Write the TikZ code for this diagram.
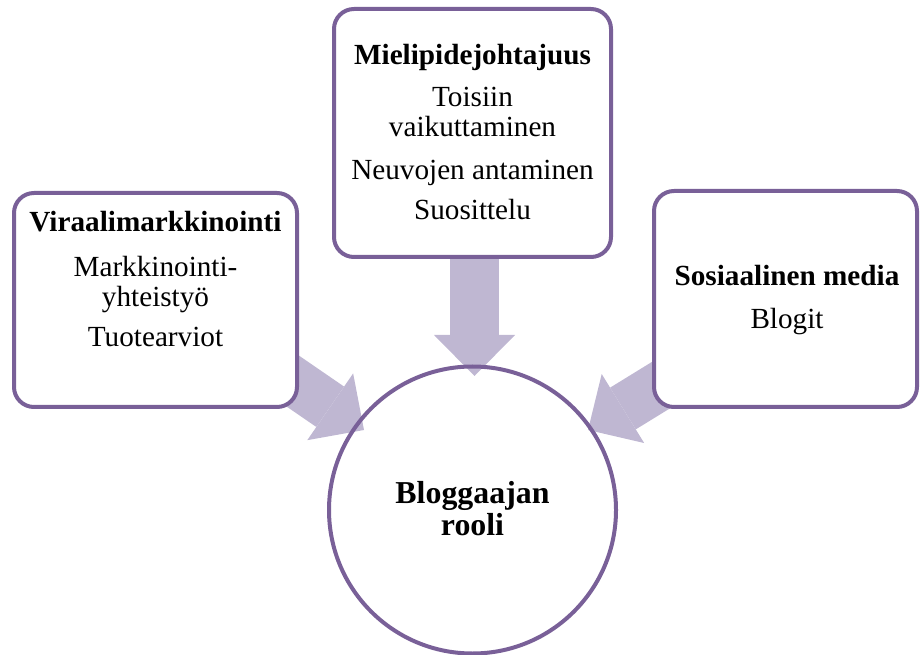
\documentclass[tikz,border=0pt]{standalone}
\usepackage{fontspec}
\setmainfont{Liberation Serif}
\usetikzlibrary{arrows.meta}
\definecolor{bord}{RGB}{121,96,152}
\definecolor{arrowfill}{RGB}{191,183,210}
\begin{document}
\begin{tikzpicture}[x=0.75pt,y=-0.75pt,
  box/.style={draw=bord,line width=3pt,fill=white,rounded corners=15pt,inner sep=0pt},
  hub/.style={draw=bord,line width=3pt,circle,inner sep=0pt},
  bigarrow/.style={draw=arrowfill,line width=36.75pt,-{Triangle[length=30.75pt,width=60.75pt,line width=0pt]}},
  txt/.style={anchor=base,inner sep=0pt,font=\fontsize{21.9pt}{26pt}\selectfont},
  btxt/.style={anchor=base,inner sep=0pt,font=\fontsize{21.9pt}{26pt}\selectfont\bfseries},
  ctxt/.style={anchor=base,inner sep=0pt,font=\fontsize{23.9pt}{28pt}\selectfont\bfseries}]
\useasboundingbox (0,0) rectangle (920,655);
% arrow end points
\coordinate (startL) at (199.2,316.8);
\coordinate (tipL) at (364,430);
\coordinate (startT) at (474.5,200);
\coordinate (tipT) at (474.5,376);
\coordinate (startR) at (758.4,325.2);
\coordinate (tipR) at (588,430);
\draw[bigarrow] (startL) -- (tipL);
\draw[bigarrow] (startT) -- (tipT);
\draw[bigarrow] (startR) -- (tipR);
% hub circle
\node[hub,minimum size=215.25pt] (circ) at (472.5,510) {};
% boxes
\node[box,minimum width=212.25pt,minimum height=160.5pt] (left) at (155.5,300) {};
\node[box,minimum width=207.75pt,minimum height=186pt] (top) at (472.5,133) {};
\node[box,minimum width=197.25pt,minimum height=162pt] (right) at (785.5,299) {};
% texts
\node[btxt] (l1) at (155.5,232) {Viraalimarkkinointi};
\node[txt] (l2) at (155.5,277) {Markkinointi-};
\node[txt] (l3) at (155.5,307) {yhteistyö};
\node[txt] (l4) at (155.5,347) {Tuotearviot};
\node[btxt] (t1) at (472.5,65) {Mielipidejohtajuus};
\node[txt] (t2) at (472.5,107) {Toisiin};
\node[txt] (t3) at (472.5,137) {vaikuttaminen};
\node[txt] (t4) at (472.5,180) {Neuvojen antaminen};
\node[txt] (t5) at (472.5,220) {Suosittelu};
\node[btxt] (r1) at (787,286) {Sosiaalinen media};
\node[txt] (r2) at (787,329) {Blogit};
\node[ctxt] (c1) at (472.5,503) {Bloggaajan};
\node[ctxt] (c2) at (472.5,535) {rooli};
\end{tikzpicture}
\end{document}
